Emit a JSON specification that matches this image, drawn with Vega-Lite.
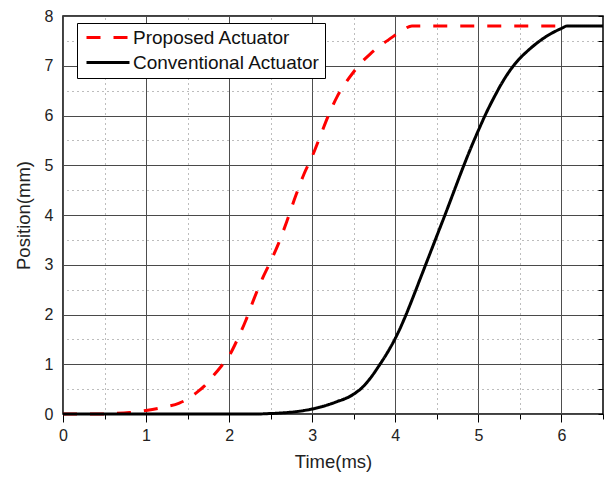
{
  "$schema": "https://vega.github.io/schema/vega-lite/v6.json",
  "width": 540,
  "height": 398,
  "autosize": {"type": "none"},
  "padding": {"left": 63, "top": 16, "right": 4, "bottom": 64},
  "background": "#ffffff",
  "config": {
    "font": "Liberation Sans",
    "view": {"stroke": "#000000", "strokeWidth": 1.5},
    "axis": {"labelFont": "Liberation Sans", "titleFont": "Liberation Sans", "labelColor": "#222222", "titleColor": "#222222", "titleFontWeight": "normal"},
    "legend": {"strokeColor": "#000000", "fillColor": "#ffffff", "padding": 5}
  },
  "data": {
    "values": [
      {"series": "Proposed Actuator", "t": 0, "pos": 0},
      {"series": "Proposed Actuator", "t": 0.45, "pos": 0},
      {"series": "Proposed Actuator", "t": 0.6, "pos": 0.01},
      {"series": "Proposed Actuator", "t": 0.8, "pos": 0.03},
      {"series": "Proposed Actuator", "t": 1.0, "pos": 0.07},
      {"series": "Proposed Actuator", "t": 1.2, "pos": 0.13},
      {"series": "Proposed Actuator", "t": 1.4, "pos": 0.22},
      {"series": "Proposed Actuator", "t": 1.5, "pos": 0.3},
      {"series": "Proposed Actuator", "t": 1.6, "pos": 0.42},
      {"series": "Proposed Actuator", "t": 1.7, "pos": 0.56},
      {"series": "Proposed Actuator", "t": 1.8, "pos": 0.75},
      {"series": "Proposed Actuator", "t": 1.9, "pos": 0.95},
      {"series": "Proposed Actuator", "t": 2.0, "pos": 1.17},
      {"series": "Proposed Actuator", "t": 2.1, "pos": 1.5},
      {"series": "Proposed Actuator", "t": 2.2, "pos": 1.88},
      {"series": "Proposed Actuator", "t": 2.3, "pos": 2.32},
      {"series": "Proposed Actuator", "t": 2.4, "pos": 2.72},
      {"series": "Proposed Actuator", "t": 2.5, "pos": 3.07},
      {"series": "Proposed Actuator", "t": 2.6, "pos": 3.45},
      {"series": "Proposed Actuator", "t": 2.7, "pos": 3.9},
      {"series": "Proposed Actuator", "t": 2.8, "pos": 4.38},
      {"series": "Proposed Actuator", "t": 2.9, "pos": 4.82},
      {"series": "Proposed Actuator", "t": 3.0, "pos": 5.18},
      {"series": "Proposed Actuator", "t": 3.1, "pos": 5.6},
      {"series": "Proposed Actuator", "t": 3.2, "pos": 6.02},
      {"series": "Proposed Actuator", "t": 3.3, "pos": 6.38},
      {"series": "Proposed Actuator", "t": 3.4, "pos": 6.65},
      {"series": "Proposed Actuator", "t": 3.5, "pos": 6.88},
      {"series": "Proposed Actuator", "t": 3.6, "pos": 7.08},
      {"series": "Proposed Actuator", "t": 3.7, "pos": 7.24},
      {"series": "Proposed Actuator", "t": 3.8, "pos": 7.38},
      {"series": "Proposed Actuator", "t": 3.9, "pos": 7.5},
      {"series": "Proposed Actuator", "t": 4.0, "pos": 7.62},
      {"series": "Proposed Actuator", "t": 4.1, "pos": 7.73},
      {"series": "Proposed Actuator", "t": 4.2, "pos": 7.8},
      {"series": "Proposed Actuator", "t": 6.07, "pos": 7.8},
      {"series": "Conventional Actuator", "t": 0, "pos": 0},
      {"series": "Conventional Actuator", "t": 2.3, "pos": 0},
      {"series": "Conventional Actuator", "t": 2.5, "pos": 0.01},
      {"series": "Conventional Actuator", "t": 2.7, "pos": 0.03},
      {"series": "Conventional Actuator", "t": 2.9, "pos": 0.07},
      {"series": "Conventional Actuator", "t": 3.0, "pos": 0.1},
      {"series": "Conventional Actuator", "t": 3.1, "pos": 0.14},
      {"series": "Conventional Actuator", "t": 3.2, "pos": 0.19},
      {"series": "Conventional Actuator", "t": 3.3, "pos": 0.25},
      {"series": "Conventional Actuator", "t": 3.4, "pos": 0.31},
      {"series": "Conventional Actuator", "t": 3.5, "pos": 0.4},
      {"series": "Conventional Actuator", "t": 3.6, "pos": 0.53},
      {"series": "Conventional Actuator", "t": 3.7, "pos": 0.72},
      {"series": "Conventional Actuator", "t": 3.8, "pos": 0.96},
      {"series": "Conventional Actuator", "t": 3.9, "pos": 1.22},
      {"series": "Conventional Actuator", "t": 4.0, "pos": 1.52},
      {"series": "Conventional Actuator", "t": 4.1, "pos": 1.88},
      {"series": "Conventional Actuator", "t": 4.2, "pos": 2.29},
      {"series": "Conventional Actuator", "t": 4.3, "pos": 2.72},
      {"series": "Conventional Actuator", "t": 4.4, "pos": 3.15},
      {"series": "Conventional Actuator", "t": 4.5, "pos": 3.58},
      {"series": "Conventional Actuator", "t": 4.6, "pos": 4.01},
      {"series": "Conventional Actuator", "t": 4.7, "pos": 4.45},
      {"series": "Conventional Actuator", "t": 4.8, "pos": 4.89},
      {"series": "Conventional Actuator", "t": 4.9, "pos": 5.31},
      {"series": "Conventional Actuator", "t": 5.0, "pos": 5.7},
      {"series": "Conventional Actuator", "t": 5.1, "pos": 6.07},
      {"series": "Conventional Actuator", "t": 5.2, "pos": 6.4},
      {"series": "Conventional Actuator", "t": 5.3, "pos": 6.7},
      {"series": "Conventional Actuator", "t": 5.4, "pos": 6.95},
      {"series": "Conventional Actuator", "t": 5.5, "pos": 7.15},
      {"series": "Conventional Actuator", "t": 5.6, "pos": 7.31},
      {"series": "Conventional Actuator", "t": 5.7, "pos": 7.45},
      {"series": "Conventional Actuator", "t": 5.8, "pos": 7.57},
      {"series": "Conventional Actuator", "t": 5.9, "pos": 7.67},
      {"series": "Conventional Actuator", "t": 6.0, "pos": 7.75},
      {"series": "Conventional Actuator", "t": 6.07, "pos": 7.8},
      {"series": "Conventional Actuator", "t": 6.5, "pos": 7.8}
    ]
  },
  "layer": [
    {
      "mark": {"type": "point", "opacity": 0},
      "encoding": {
        "x": {
          "field": "t", "type": "quantitative",
          "scale": {"domain": [0, 6.5], "nice": false, "zero": false},
          "axis": {
            "orient": "top", "title": null, "labels": false, "domain": false, "ticks": false,
            "values": [0.5, 1.5, 2.5, 3.5, 4.5, 5.5],
            "grid": true, "gridWidth": 1, "gridColor": "#7a7a7a", "gridDash": [1, 4]
          }
        },
        "y": {
          "field": "pos", "type": "quantitative",
          "scale": {"domain": [0, 8], "nice": false},
          "axis": {
            "orient": "right", "title": null, "labels": false, "domain": false,
            "values": [0, 0.5, 1, 1.5, 2, 2.5, 3, 3.5, 4, 4.5, 5, 5.5, 6, 6.5, 7, 7.5, 8],
            "ticks": true, "tickSize": -5, "tickColor": "#000000", "tickWidth": 1,
            "grid": true, "gridWidth": 1, "gridColor": "#7a7a7a", "gridDash": [1, 4],
            "gridOpacity": {"condition": {"test": "datum.value % 1 === 0", "value": 0}, "value": 0.99}
          }
        }
      }
    },
    {
      "mark": {"type": "line", "strokeWidth": 3, "interpolate": "monotone"},
      "encoding": {
        "x": {
          "field": "t", "type": "quantitative",
          "axis": {
            "title": "Time(ms)", "titleFontSize": 18.5, "titlePadding": 9,
            "values": [0, 0.5, 1, 1.5, 2, 2.5, 3, 3.5, 4, 4.5, 5, 5.5, 6, 6.5],
            "labelExpr": "datum.value % 1 === 0 ? format(datum.value, 'd') : ''",
            "labelFontSize": 16, "labelPadding": 5, "labelFlush": false,
            "domain": false,
            "ticks": true, "tickColor": "#000000", "tickWidth": 1,
            "tickSize": {"condition": {"test": "datum.value % 1 !== 0", "value": 5}, "value": 8},
            "grid": true, "gridWidth": 1, "gridColor": "#4a4a4a",
            "gridOpacity": {"condition": {"test": "datum.value % 1 !== 0", "value": 0}, "value": 0.98}
          }
        },
        "y": {
          "field": "pos", "type": "quantitative",
          "axis": {
            "title": "Position(mm)", "titleFontSize": 18.5, "titlePadding": 11,
            "values": [0, 1, 2, 3, 4, 5, 6, 7, 8],
            "labelFontSize": 16, "labelPadding": 10, "labelFlush": false,
            "domain": false, "ticks": false,
            "grid": true, "gridWidth": 1, "gridColor": "#4a4a4a"
          }
        },
        "color": {
          "field": "series", "type": "nominal",
          "scale": {"domain": ["Proposed Actuator", "Conventional Actuator"], "range": ["#ff0000", "#000000"]},
          "legend": {
            "title": null, "orient": "none", "legendX": 14, "legendY": 7,
            "labelFontSize": 19, "labelColor": "#111111", "labelFont": "Liberation Sans", "labelLimit": 0,
            "symbolType": "M-1,0H7.6", "symbolSize": 100, "symbolStrokeWidth": 3,
            "labelOffset": 32, "rowPadding": 5
          }
        },
        "strokeDash": {
          "field": "series", "type": "nominal",
          "scale": {"domain": ["Proposed Actuator", "Conventional Actuator"], "range": [[14, 13], [2, 0]]},
          "legend": {
            "title": null, "orient": "none", "legendX": 14, "legendY": 7,
            "labelFontSize": 19, "labelColor": "#111111", "labelFont": "Liberation Sans", "labelLimit": 0,
            "symbolType": "M-1,0H7.6", "symbolSize": 100, "symbolStrokeWidth": 3,
            "labelOffset": 32, "rowPadding": 5
          }
        }
      }
    }
  ],
  "resolve": {"axis": {"x": "independent", "y": "independent"}}
}
